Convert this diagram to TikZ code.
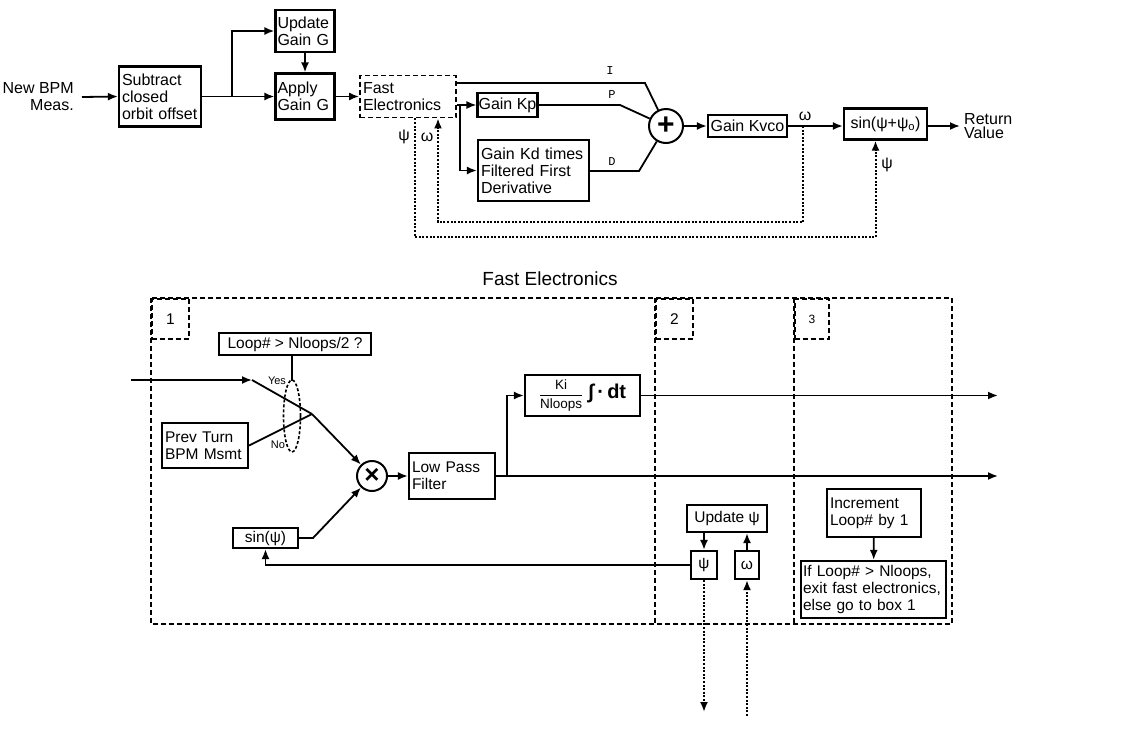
\documentclass[tikz,border=0pt]{standalone}
\usepackage{fontspec}
\setmainfont{Liberation Sans}
\newfontfamily\sigfont{Liberation Mono}
\usetikzlibrary{arrows.meta}

\begin{document}
\begin{tikzpicture}[x=1pt, y=-1pt, line width=1.8pt, >={Latex[length=10pt,width=8pt]},
        font=\fontsize{16}{17}\selectfont,
        blk/.style={draw, line width=2.2pt, inner xsep=3pt, inner ysep=1pt, align=left},
        cblk/.style={draw, line width=2.2pt, inner sep=1pt, align=center},
        dblk/.style={draw, line width=1.8pt, dash pattern=on 5pt off 3pt, inner xsep=3pt, align=left},
        frame/.style={line width=1.8pt, dash pattern=on 5pt off 3pt},
        fb/.style={line width=2pt, dash pattern=on 2pt off 1.6pt},
        junc/.style={draw, circle, line width=2pt, inner sep=0pt},
        sig/.style={font=\sigfont\fontsize{12}{12}\selectfont, inner sep=0pt},
        tag/.style={font=\fontsize{11}{11}\selectfont, inner sep=0pt}]

        % --- SETTINGS ---
        \useasboundingbox (0,0) rectangle (1141,732);

        % =========================================
        % OUTER LOOP (Top)
        % =========================================
        \node[align=right, anchor=east] (meas) at (78,97) {New BPM\\Meas.};
        \node[blk, text width=76pt, minimum height=60pt] (sub) at (160,96.5) {Subtract\\closed\\orbit offset};
        \node[blk, inner xsep=2pt, text width=55pt, minimum height=42pt] (upd) at (305,31) {Update\\Gain G};
        \node[blk, inner xsep=2pt, text width=55pt, minimum height=46pt] (app) at (305,96.5) {Apply\\Gain G};
        \node[dblk, text width=90pt, minimum height=42pt] (fast) at (408,96.5) {Fast\\Electronics};
        \node[blk, inner xsep=1pt, minimum width=59pt, minimum height=24pt] (kp) at (507.5,105) {Gain Kp};
        \node[blk, text width=105pt, minimum height=61pt] (kd) at (533.5,170.5) {Gain Kd times\\Filtered First\\Derivative};
        \node[junc, minimum size=34pt] (sum) at (666,126) {\fontsize{30}{30}\selectfont\bfseries +};
        \node[blk, inner xsep=1pt, minimum width=79pt, minimum height=22pt] (kvco) at (747.5,126) {Gain Kvco};
        \node[cblk, minimum width=83pt, minimum height=31pt] (osc) at (885.5,124) {sin(ψ+ψ\textsubscript{o})};
        \node[align=left, anchor=west, font=\fontsize{16}{14}\selectfont] (ret) at (960,126) {Return\\Value};

        % Input side
        \coordinate (split) at (232,96.5);
        \draw[->] ([xshift=4pt]meas.east) -- (sub.west);
        \draw (sub.east) -- (split);
        \draw[->] (split) |- (upd.west);
        \draw[->] (split) -- (app.west);
        \draw[->] (upd) -- (app);
        \draw[->] (app) -- (fast);

        % P, I, D paths into the sum
        \coordinate (tapP) at (460,105);
        \coordinate (bendI) at (645,83);
        \coordinate (bendP) at (620,105);
        \coordinate (bendD) at (639,171);
        \draw[->] (fast.east |- kp) -- (kp.west);
        \draw[->] (tapP) |- (kd.west);
        \draw (fast.east |- bendI) -- (bendI) -- (sum);
        \draw (kp.east) -- (bendP) -- (sum);
        \draw (kd.east |- bendD) -- (bendD) -- (sum);
        \node[sig] (lblI) at (610,71) {I};
        \node[sig] (lblP) at (612,95) {P};
        \node[sig] (lblD) at (612,162) {D};

        % Oscillator
        \coordinate (tapW) at (803,126);
        \draw[->] (sum) -- (kvco);
        \draw[->] (kvco) -- (osc.west |- kvco);
        \draw[->] (osc.east |- ret) -- (ret);
        \node (lblW) at (805,116) {ω};

        % Dotted feedback
        \coordinate (footW) at (438,222);
        \coordinate (footPsi) at (415,237);
        \draw[fb,->] (tapW) |- (footW) -- (footW |- fast.south);
        \draw[fb,->] (fast.south -| footPsi) -- (footPsi) -| ([xshift=-10pt]osc.south);
        \node (lblPsiA) at (404,137) {ψ};
        \node (lblWA) at (427,137) {ω};
        \node (lblPsiB) at (887,165) {ψ};

        % =========================================
        % FAST ELECTRONICS (Bottom)
        % =========================================
        \begin{scope}[font=\fontsize{15.5}{17}\selectfont]
        \node[font=\fontsize{19}{19}\selectfont] (title) at (550,279) {Fast Electronics};
        \draw[frame] (151,298) rectangle (952,624);
        \draw[frame] (655,298) -- (655,624);
        \draw[frame] (794,298) -- (794,624);
        \node[dblk, anchor=north west, minimum width=37pt, minimum height=40pt, align=center] (num1) at (151,298) {1};
        \node[dblk, anchor=north west, minimum width=37pt, minimum height=40pt, align=center] (num2) at (655,298) {2};
        \node[dblk, anchor=north west, minimum width=34pt, minimum height=40pt, align=center, font=\fontsize{12}{12}\selectfont] (num3) at (794,298) {3};

        % Box 1: switch, mixer, filter
        \node[cblk, minimum width=152pt, minimum height=22pt] (loop) at (295,344) {Loop\# > Nloops/2 ?};
        \node[blk, text width=80pt, minimum height=45pt] (prev) at (205,445.5) {Prev Turn\\BPM Msmt};
        \coordinate (inA) at (131,380);
        \coordinate (yes) at (252,380);
        \coordinate (sw) at (312,414);
        \coordinate (ctl) at (292,381);
        \draw[->] (inA) -- (yes);
        \draw (yes) -- (sw);
        \draw (prev.east) -- (sw);
        \draw (loop.south -| ctl) -- (ctl);
        \draw[line width=1.6pt, dash pattern=on 3pt off 2pt] (292,416) ellipse [x radius=8.5pt, y radius=36pt];
        \node[tag] (yestag) at (277,381) {Yes};
        \node[tag] (notag) at (278,445) {No};

        \node[junc, minimum size=30pt] (mult) at (372,476) {\fontsize{26}{26}\selectfont\bfseries ×};
        \node[cblk, minimum width=65pt, minimum height=20pt] (sinpsi) at (265.5,538) {sin(ψ)};
        \node[blk, text width=80pt, minimum height=46pt] (lpf) at (452,476) {Low Pass\\Filter};
        \node[cblk, minimum width=115pt, minimum height=41pt] (integ) at (582.5,395.5)
            {{\fontsize{13.5}{13}\selectfont$\displaystyle\frac{\mbox{Ki}}{\mbox{Nloops}}$}\,\,{\fontsize{20}{20}\selectfont\bfseries ∫\,·\,dt}};
        \coordinate (bendS) at (313,538);
        \coordinate (tapL) at (507,476);
        \coordinate (outI) at (998,395.5);
        \coordinate (outL) at (998,476);
        \draw[->] (sw) -- (mult);
        \draw[->] (sinpsi.east) -- (bendS) -- (mult);
        \draw[->] (mult) -- (lpf);
        \draw[->] (lpf.east) -- (outL);
        \draw[->] (tapL) |- (integ.west);
        \draw[->] (integ.east) -- (outI);

        % Box 2: phase update
        \node[cblk, minimum width=80pt, minimum height=27pt] (updpsi) at (727,518.5) {Update ψ};
        \node[cblk, minimum width=26pt, minimum height=28pt] (psi) at (704,565) {ψ};
        \node[cblk, minimum width=24pt, minimum height=28pt] (omega) at (747,565) {ω};
        \coordinate (psiOut) at (704,712);
        \coordinate (omIn) at (747,716);
        \draw[->] (updpsi.south -| psi) -- (psi);
        \draw[->] (omega) -- (updpsi.south -| omega);
        \draw[->] (psi.west) -| (sinpsi.south);
        \draw[fb,->] (psi) -- (psiOut);
        \draw[fb,->] (omIn) -- (omega);

        % Box 3: loop counter
        \node[blk, text width=88pt, minimum height=48pt] (inc) at (874,513) {Increment\\Loop\# by 1};
        \node[blk, text width=141pt, inner xsep=2pt, minimum height=57pt] (exitbox) at (873.5,589.5) {If Loop\# > Nloops,\\exit fast electronics,\\else go to box 1};
        \draw[->] (inc) -- (exitbox);
        \end{scope}

    \end{tikzpicture}
\end{document}
